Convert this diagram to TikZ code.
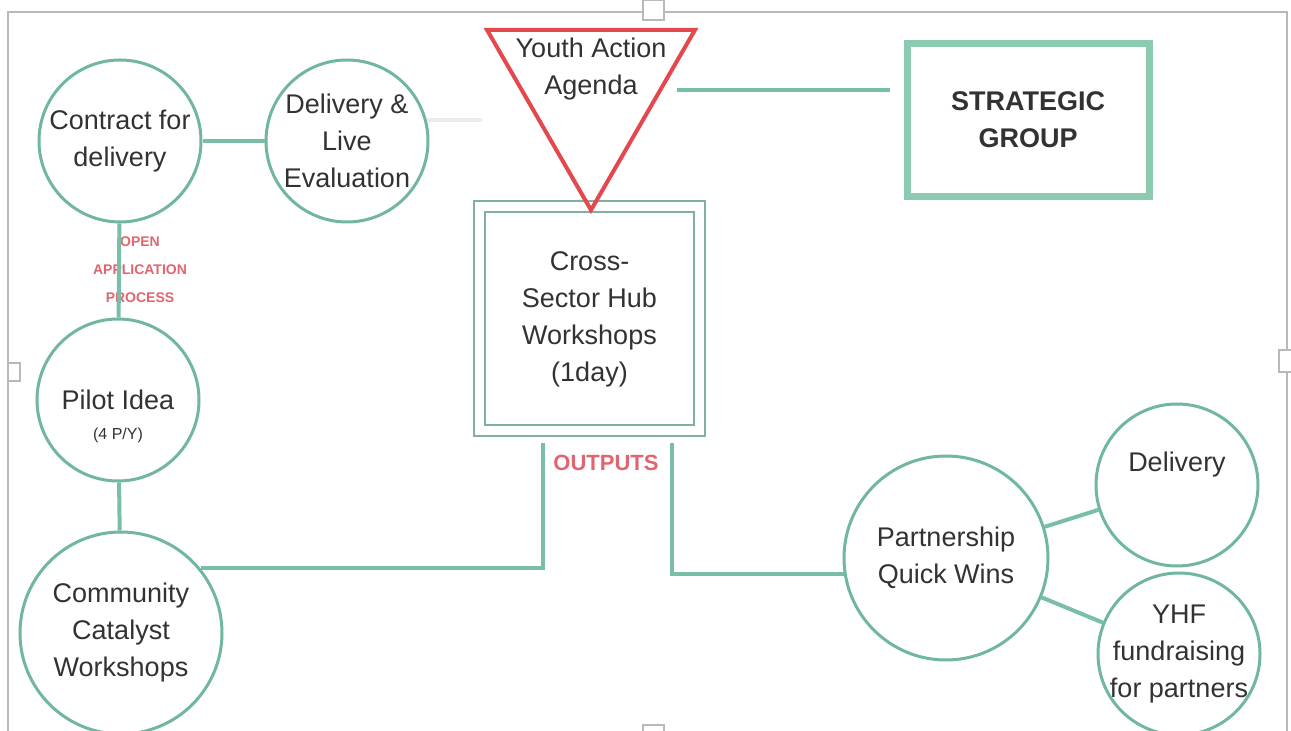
\documentclass[tikz,border=0pt]{standalone}
\usepackage{fontspec}
\setmainfont{Liberation Sans}
\usetikzlibrary{positioning,shapes}
\definecolor{colorring}{RGB}{112,182,160}
\definecolor{colorlink}{RGB}{120,190,168}
\definecolor{colorpanel}{RGB}{140,202,178}
\definecolor{colorhub}{RGB}{128,176,160}
\definecolor{colorflag}{RGB}{228,72,78}
\definecolor{colornote}{RGB}{225,100,110}
\definecolor{colorink}{RGB}{50,50,50}
\newcommand{\labelfont}{\fontsize{13.5}{18.5}\selectfont}
\newcommand{\notefont}{\bfseries\fontsize{7}{14}\selectfont}
\newcommand{\smallfont}{\fontsize{8}{10}\selectfont}
\tikzstyle{every node}=[font=\labelfont, text=colorink, align=center]
\tikzstyle{phase}=[circle, draw=colorring, line width=1.5pt, inner sep=0pt, minimum size=81pt]
\tikzstyle{panel}=[rectangle, draw=colorpanel, line width=3.5pt, minimum width=121pt, minimum height=76.5pt]
\tikzstyle{hubbox}=[rectangle, draw=colorhub, line width=1pt, double, double distance=4.5pt, minimum width=110pt, minimum height=112pt]
\tikzstyle{flag}=[regular polygon, regular polygon sides=3, shape border rotate=180, draw=colorflag, line width=2pt, inner sep=0pt, minimum size=120pt]
\tikzstyle{link}=[draw=colorlink, line width=2pt]
\tikzstyle{ghost}=[draw=black!8, line width=2pt]
\tikzstyle{note}=[font=\notefont, text=colornote]
\tikzstyle{frame}=[draw=gray!55, line width=0.7pt]
\tikzstyle{handle}=[draw=gray!55, fill=white, line width=0.7pt]

\begin{document}
\begin{tikzpicture}[x=0.5pt, y=-0.5pt]
	\useasboundingbox (0,0) rectangle (1291,731);
	
	% page frame with its grips
	\draw[frame] (8,731) -- (8,12) -- (1287,12) -- (1287,731);
	\draw[handle] (643,0) rectangle (664,20);
	\draw[handle] (8,363) rectangle (20,381);
	\draw[handle] (643,725) rectangle (664,735);
	\draw[handle] (1279,350) rectangle (1295,372);
	
	\node[phase] at (120,141) (contract) {Contract for\\delivery};
	\node[phase] at (347,141) (delivLive) {Delivery \&\\Live\\Evaluation};
	\node[phase, label={[yshift=-17.5pt, font=\smallfont]center:(4 P/Y)}] at (118,400) (pilot) {Pilot Idea};
	\node[phase, minimum size=101pt] at (121,633) (community) {Community\\Catalyst\\Workshops};
	
	\node[hubbox] at (589.5,319) (hub) {Cross-\\Sector Hub\\Workshops\\(1day)};
	\node[flag, label={[yshift=10.5pt]center:{Youth Action\\Agenda}}] at (591,90) (agenda) {};
	\node[panel] at (1028,120) (strategic) {\textbf{STRATEGIC}\\\textbf{GROUP}};
	
	\node[phase, minimum size=102pt] at (946,558) (partner) {Partnership\\Quick Wins};
	\node[phase, label={[yshift=10pt]center:Delivery}] at (1177,485) (delivery) {};
	\node[phase, inner sep=-3pt] at (1179,654) (fundraise) {YHF\\fundraising\\for partners};
	
	\node[note] at (140,270) (openApp) {OPEN\\APPLICATION\\PROCESS};
	\node[note, font=\bfseries\fontsize{11}{13}\selectfont] at (606,463) (outputs) {OUTPUTS};
	
	\coordinate (outL) at (543,443);
	\coordinate (outR) at (672,443);
	
	\path (contract) edge[link] (delivLive);
	\path (contract) edge[link] (pilot);
	\path (pilot) edge[link] (community);
	\path (agenda) edge[link, shorten <=7pt, shorten >=7pt] (strategic.west |- agenda);
	\draw[link] (outL) |- (community.39);
	\draw[link] (outR) |- (partner.189);
	\path (partner) edge[link] (delivery);
	\path (partner) edge[link] (fundraise);
	\draw[ghost] (delivLive.15) -- ++(55,0);
	
\end{tikzpicture}
\end{document}
